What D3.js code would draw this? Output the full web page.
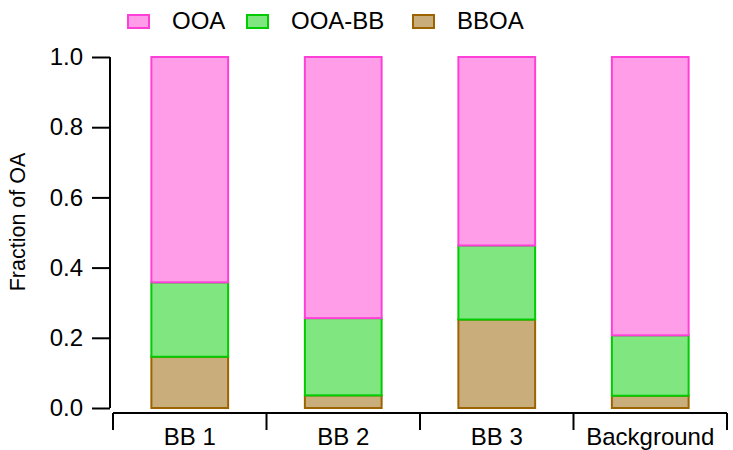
<!DOCTYPE html>
<html>
<head>
<meta charset="utf-8">
<script src="https://cdn.jsdelivr.net/npm/d3@7"></script>
<style>
  html, body { margin: 0; padding: 0; background: #fff; }
  svg { display: block; font-family: "Liberation Sans", Arial, sans-serif; }
</style>
</head>
<body>
<svg id="chart" width="733" height="450"></svg>
<script>
const categories = ["BB 1", "BB 2", "BB 3", "Background"];
const seriesNames = ["BBOA", "OOA-BB", "OOA"];
const BBOA = [0.146, 0.036, 0.252, 0.035];
const OOA_BB = [0.212, 0.220, 0.211, 0.172];
const OOA = [0.642, 0.744, 0.537, 0.793];
const yTicks = [0.0, 0.2, 0.4, 0.6, 0.8, 1.0];
const legendOrder = ["OOA", "OOA-BB", "BBOA"];

const fills = { "OOA": "#ff9de9", "OOA-BB": "#80e680", "BBOA": "#c9ad7b" };
const strokes = { "OOA": "#ff40d8", "OOA-BB": "#00cc00", "BBOA": "#9c6400" };

const rows = categories.map((c, i) => ({ cat: c, "BBOA": BBOA[i], "OOA-BB": OOA_BB[i], "OOA": OOA[i] }));
const stacked = d3.stack().keys(seriesNames)(rows);

const svg = d3.select("#chart");
const x = d3.scaleBand().domain(categories).range([113, 727]).paddingInner(0.5).paddingOuter(0.25);
const y = d3.scaleLinear().domain([0, 1]).range([408, 57]);
const FONT = "Liberation Sans, Arial, sans-serif";

// bars
svg.append("g").selectAll("g").data(stacked).join("g")
  .attr("fill", d => fills[d.key]).attr("stroke", d => strokes[d.key]).attr("stroke-width", 2)
  .selectAll("rect").data(d => d).join("rect")
  .attr("x", d => x(d.data.cat))
  .attr("width", x.bandwidth())
  .attr("y", d => y(d[1]))
  .attr("height", d => y(d[0]) - y(d[1]));

// y axis
const yAxis = d3.axisLeft(y).tickValues(yTicks).tickFormat(d3.format(".1f")).tickSize(18).tickPadding(9);
const gy = svg.append("g").attr("transform", "translate(110,0)").call(yAxis);
gy.select(".domain").attr("d", `M0,${y(0)}V${y(1)}`).attr("stroke", "#000").attr("stroke-width", 2);
gy.selectAll(".tick line").attr("stroke", "#000").attr("stroke-width", 2);
gy.selectAll(".tick text").attr("font-size", 24).attr("fill", "#000").attr("font-family", FONT);

// x axis
const xAxis = d3.axisBottom(x).tickSize(0).tickPadding(15);
const gx = svg.append("g").attr("transform", "translate(0,413)").call(xAxis);
gx.select(".domain").attr("d", "M113,0H727").attr("stroke", "#000").attr("stroke-width", 2);
gx.selectAll(".tick text").attr("font-size", 24).attr("fill", "#000").attr("font-family", FONT);
// category boundary ticks
const bounds = d3.range(categories.length + 1).map(i => x.range()[0] + i * x.step() * (x.range()[1] - x.range()[0]) / (x.step() * categories.length));
gx.append("g").selectAll("line").data(bounds).join("line")
  .attr("x1", d => d).attr("x2", d => d).attr("y1", 0).attr("y2", 17)
  .attr("stroke", "#000").attr("stroke-width", 2);

// y title
svg.append("text").attr("transform", "translate(25,222) rotate(-90)")
  .attr("text-anchor", "middle").attr("font-size", 21.5).attr("fill", "#000")
  .attr("font-family", FONT)
  .text("Fraction of OA");

// legend
const legX = [128, 247, 413];
const lg = svg.append("g").selectAll("g").data(legendOrder).join("g")
  .attr("transform", (d, i) => `translate(${legX[i]},15)`);
lg.append("rect").attr("width", 21).attr("height", 13)
  .attr("fill", d => fills[d]).attr("stroke", d => strokes[d]).attr("stroke-width", 2);
lg.append("text").attr("x", 44).attr("y", 14).attr("font-size", 24).attr("fill", "#000")
  .attr("font-family", FONT).text(d => d);
</script>
</body>
</html>
